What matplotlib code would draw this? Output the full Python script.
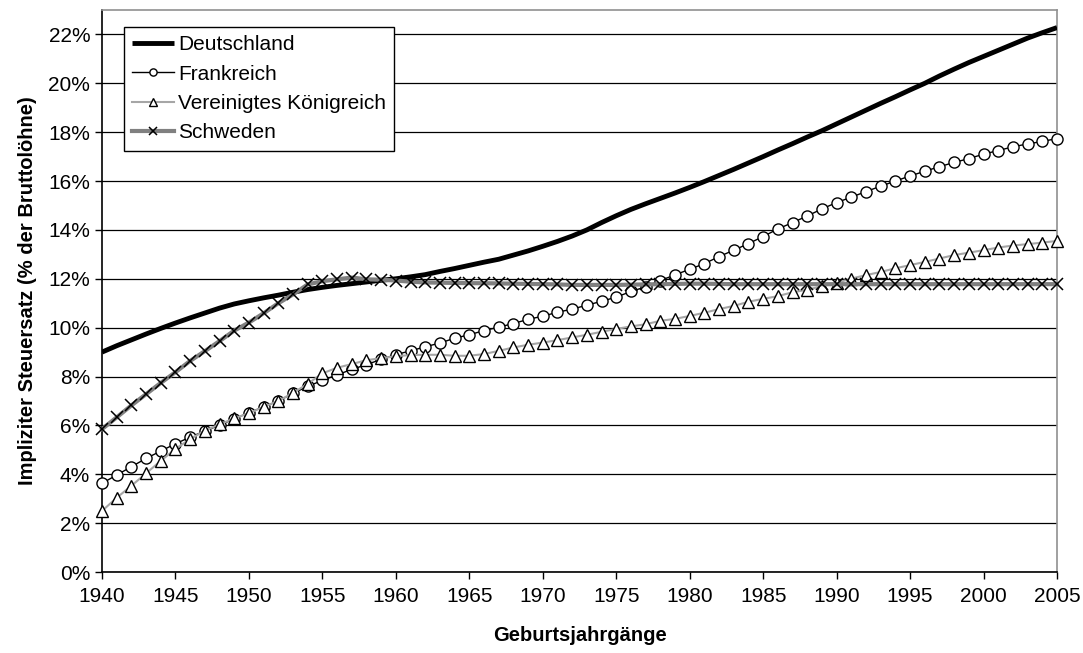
import numpy as np
import matplotlib
matplotlib.use("Agg")
import matplotlib.pyplot as plt
from matplotlib.ticker import FuncFormatter

plt.rcParams['font.family'] = ['Liberation Sans', 'DejaVu Sans']

# Geburtsjahrgänge 1940 .. 2005
years = np.arange(1940, 2006)

deutschland = [
    9.00, 9.26, 9.50, 9.74, 9.97, 10.19, 10.40, 10.60, 10.80, 10.97,
    11.10, 11.22, 11.33, 11.45, 11.56, 11.65, 11.73, 11.80, 11.87, 11.94,
    12.00, 12.08, 12.17, 12.30, 12.42, 12.55, 12.68, 12.80, 12.97, 13.14,
    13.33, 13.53, 13.75, 14.00, 14.30, 14.58, 14.84, 15.07, 15.29, 15.51,
    15.74, 15.98, 16.23, 16.48, 16.74, 17.00, 17.27, 17.53, 17.80, 18.06,
    18.34, 18.62, 18.90, 19.18, 19.45, 19.73, 20.00, 20.30, 20.58, 20.85,
    21.10, 21.35, 21.60, 21.85, 22.07, 22.28,
]
frankreich = [
    3.63, 3.97, 4.31, 4.65, 4.95, 5.25, 5.52, 5.77, 6.01, 6.27,
    6.52, 6.76, 7.00, 7.31, 7.60, 7.84, 8.07, 8.29, 8.49, 8.70,
    8.90, 9.05, 9.22, 9.37, 9.57, 9.71, 9.88, 10.02, 10.17, 10.34,
    10.47, 10.63, 10.76, 10.92, 11.08, 11.25, 11.48, 11.67, 11.93, 12.16,
    12.39, 12.62, 12.91, 13.17, 13.44, 13.73, 14.04, 14.30, 14.57, 14.86,
    15.12, 15.34, 15.57, 15.79, 16.00, 16.21, 16.40, 16.59, 16.76, 16.92,
    17.10, 17.25, 17.40, 17.52, 17.62, 17.74,
]
vereinigtes_koenigreich = [
    2.50, 3.04, 3.53, 4.04, 4.55, 5.04, 5.44, 5.79, 6.04, 6.29,
    6.50, 6.76, 7.00, 7.33, 7.70, 8.13, 8.36, 8.51, 8.67, 8.75,
    8.83, 8.88, 8.89, 8.89, 8.85, 8.85, 8.92, 9.05, 9.19, 9.30,
    9.39, 9.49, 9.60, 9.71, 9.83, 9.95, 10.05, 10.14, 10.28, 10.36,
    10.48, 10.61, 10.76, 10.89, 11.06, 11.18, 11.29, 11.45, 11.55, 11.70,
    11.83, 12.01, 12.15, 12.28, 12.43, 12.56, 12.69, 12.83, 12.97, 13.07,
    13.17, 13.28, 13.36, 13.42, 13.48, 13.55,
]
schweden = [
    5.85, 6.33, 6.82, 7.28, 7.74, 8.18, 8.64, 9.04, 9.45, 9.88,
    10.21, 10.59, 11.00, 11.36, 11.77, 11.90, 11.98, 12.05, 11.98, 11.96,
    11.93, 11.88, 11.85, 11.84, 11.83, 11.82, 11.82, 11.81, 11.80, 11.79,
    11.78, 11.77, 11.75, 11.75, 11.75, 11.75, 11.76, 11.77, 11.78, 11.79,
    11.80, 11.80, 11.79, 11.78, 11.78, 11.78, 11.78, 11.78, 11.78, 11.78,
    11.78, 11.78, 11.78, 11.78, 11.78, 11.78, 11.78, 11.78, 11.78, 11.78,
    11.78, 11.78, 11.78, 11.78, 11.78, 11.78,
]

fig = plt.figure(figsize=(10.83, 6.53), dpi=100)
ax = fig.add_axes([0.0942, 0.124, 0.8818, 0.8607])

ax.plot(years, deutschland, color='black', lw=3.5, label='Deutschland',
        solid_capstyle='butt', zorder=3)
ax.plot(years, frankreich, color='black', lw=1.0, marker='o', ms=8,
        mfc='white', mec='black', mew=1.0, label='Frankreich',
        clip_on=False, zorder=4)
ax.plot(years, vereinigtes_koenigreich, color='#a6a6a6', lw=1.5, marker='^',
        ms=8, mfc='white', mec='black', mew=1.0,
        label='Vereinigtes Königreich', clip_on=False, zorder=5)
ax.plot(years, schweden, color='#808080', lw=3.0, marker='x', ms=8,
        mec='black', mew=1.1, label='Schweden', clip_on=False, zorder=6)

ax.set_xlim(1940, 2005)
ax.set_ylim(0, 23)
ax.set_xticks(np.arange(1940, 2006, 5))
ax.set_yticks(np.arange(0, 23, 2))
ax.yaxis.set_major_formatter(FuncFormatter(lambda v, p: '%d%%' % round(v)))
ax.tick_params(axis='both', direction='out', length=5, width=1,
               labelsize=15, colors='black')
ax.tick_params(axis='x', pad=6)

ax.grid(axis='y', color='black', lw=0.9)
ax.set_axisbelow(True)
for side in ['left', 'bottom']:
    ax.spines[side].set_color('black')
    ax.spines[side].set_linewidth(1.2)
for side in ['top', 'right']:
    ax.spines[side].set_color('#909090')
    ax.spines[side].set_linewidth(1.2)

ax.set_xlabel('Geburtsjahrgänge', fontsize=14.5, fontweight='bold', labelpad=14)
ax.set_ylabel('Impliziter Steuersatz (% der Bruttolöhne)', fontsize=14.5,
              fontweight='bold', labelpad=8)

leg = ax.legend(loc='upper left', bbox_to_anchor=(0.023, 0.970),
                borderaxespad=0, fontsize=15, frameon=True, fancybox=False,
                edgecolor='black', framealpha=1, handlelength=2.0,
                handletextpad=0.2, labelspacing=0.5, borderpad=0.4,
                markerscale=0.65)
leg.get_frame().set_linewidth(1.0)

fig.savefig('out.png', dpi=100)
